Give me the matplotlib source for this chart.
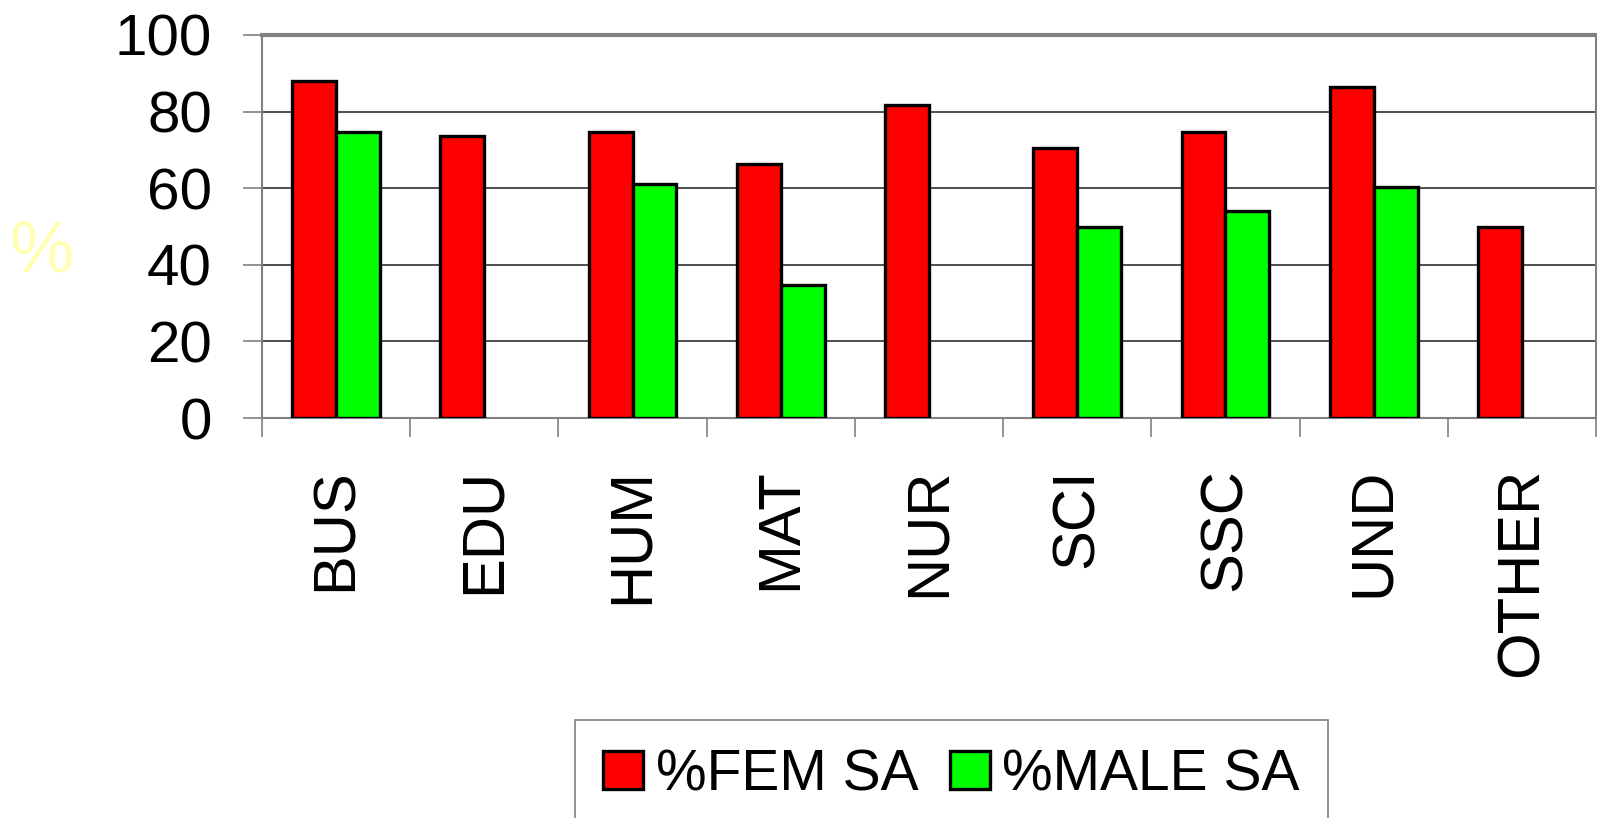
import numpy as np
import matplotlib
matplotlib.use("Agg")
import matplotlib.pyplot as plt

# data
categories = ['BUS', 'EDU', 'HUM', 'MAT', 'NUR', 'SCI', 'SSC', 'UND', 'OTHER']
fem_sa = [88.0, 73.5, 74.7, 66.4, 81.7, 70.4, 74.7, 86.5, 49.8]
male_sa = [74.6, np.nan, 61.0, 34.6, np.nan, 50.0, 54.0, 60.2, np.nan]
yticks = [0, 20, 40, 60, 80, 100]

plt.rcParams['font.family'] = ['Liberation Sans', 'DejaVu Sans']

fig = plt.figure(figsize=(15.97, 8.18), dpi=100)
ax = fig.add_axes([262/1597, 1 - 418/818, 1 - 262/1597 - 1/1597, (418 - 35)/818])

x = np.arange(len(categories))
w = 0.296
ax.bar(x - w/2, fem_sa, w, color='#ff0000', edgecolor='black', linewidth=2.4,
       label='%FEM SA', zorder=3)
ax.bar(x + w/2, male_sa, w, color='#00ff00', edgecolor='black', linewidth=2.4,
       label='%MALE SA', zorder=3)

ax.set_xlim(-0.5, len(categories) - 0.5)
ax.set_ylim(0, 100)
ax.set_yticks(yticks)
ax.yaxis.grid(True, color='#303030', linewidth=1.2, zorder=0)

ax.set_xticks(x)
ax.set_xticklabels(categories, rotation=90, fontsize=43)
ax.set_xticks(np.arange(len(categories) + 1) - 0.5, minor=True)
ax.tick_params(axis='x', which='major', length=0, pad=36)
ax.tick_params(axis='x', which='minor', length=14, width=1.2, color='#808080')
ax.tick_params(axis='y', length=14, width=1.2, color='#808080', labelsize=42, pad=22)

for side in ['left', 'bottom', 'right']:
    ax.spines[side].set_color('#808080')
    ax.spines[side].set_linewidth(1.5)
ax.spines['top'].set_color('#808080')
ax.spines['top'].set_linewidth(3)

fig.text(42/1597, 1 - 253/818, '%', color='#ffffb3', fontsize=52,
         ha='center', va='center')

leg = fig.legend(loc='upper left', bbox_to_anchor=(575/1597, 1 - 720/818),
                 ncol=2, fontsize=41, frameon=True, fancybox=False,
                 edgecolor='#606060', handlelength=0.7, handleheight=0.65,
                 handletextpad=0.22, columnspacing=0.55, borderpad=0.5,
                 borderaxespad=0)
leg.get_frame().set_linewidth(1.2)

fig.savefig('out.png', dpi=100)
